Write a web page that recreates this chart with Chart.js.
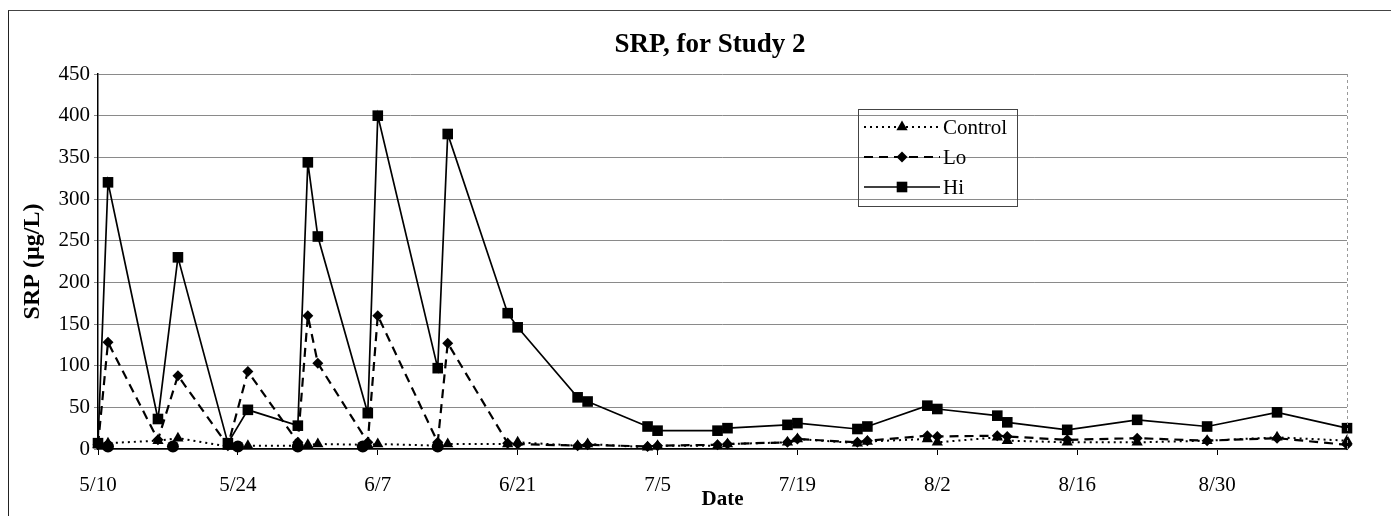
<!DOCTYPE html>
<html><head><meta charset="utf-8">
<script src="https://cdn.jsdelivr.net/npm/chart.js@4.4.1/dist/chart.umd.min.js"></script>
<style>
html,body{margin:0;padding:0;background:#fff;}
#wrap{position:relative;width:1391px;height:516px;overflow:hidden;}
#frame{position:absolute;left:8px;top:10px;width:1400px;height:600px;border-left:1px solid #222;border-top:1px solid #444;}
canvas{position:absolute;left:0;top:0;}
</style></head><body>
<div id="wrap"><div id="frame"></div><canvas id="c" width="1391" height="516"></canvas></div>
<script>
// Sampling days counted from 5/10
const sampleDays = [0,1,6,8,13,15,20,21,22,27,28,34,35,41,42,48,49,55,56,62,63,69,70,76,77,83,84,90,91,97,104,111,118,125];
const controlValues = [5,7,10,13,3,4,4,5,6,5,6,4,6,6,8,4,6,2,4,4,6,8,12,7,9,12,8,14,10,8,8,10,14,10];
const loValues = [5,128,11,88,4,93,8,160,103,8,160,8,127,7,6,4,5,3,4,5,6,8,12,8,10,16,15,16,15,11,13,10,13,5];
const hiValues = [7,320,36,230,7,47,28,344,255,43,400,97,378,163,146,62,57,27,22,22,25,29,31,24,27,52,48,40,32,23,35,27,44,25];
// unlabelled circle markers near zero
const circleDays = [1,7.5,14,20,26.5,34];
const circleValues = [3,3,3,3,3,3];
const xTickLabels = ['5/10','5/24','6/7','6/21','7/5','7/19','8/2','8/16','8/30'];
const yTicks = [0,50,100,150,200,250,300,350,400,450];
const seriesNames = ['Control','Lo','Hi'];
const chartTitle = 'SRP, for Study 2';

const pts = (xs, ys) => xs.map((x,i)=>({x:x, y:ys[i]}));
const serif = "'Liberation Serif','Times New Roman',serif";

const titlePlugin = {
  id:'topTitle',
  afterDraw(chart){
    const o = chart.options.plugins.topTitle, ctx = chart.ctx;
    ctx.save();
    ctx.font = `bold ${o.size}px ${serif}`; ctx.fillStyle = '#000';
    ctx.textAlign = 'center'; ctx.textBaseline = 'middle';
    ctx.fillText(o.text, o.cx, o.cy);
    ctx.restore();
  }
};
const legendPlugin = {
  id:'boxLegend',
  afterDraw(chart){
    const ctx = chart.ctx, L = chart.options.plugins.boxLegend;
    ctx.save();
    ctx.strokeStyle = '#444'; ctx.lineWidth = 1;
    ctx.strokeRect(L.x+0.5, L.y+0.5, L.w, L.h);
    chart.data.datasets.slice(0,3).forEach((ds,i)=>{
      const y = L.y + L.rowTop + i*L.rowGap;
      ctx.strokeStyle = '#000'; ctx.lineWidth = ds.borderWidth;
      ctx.setLineDash(ds.borderDash || []);
      ctx.beginPath(); ctx.moveTo(L.x+L.lineStart, y); ctx.lineTo(L.x+L.lineEnd, y); ctx.stroke();
      ctx.setLineDash([]);
      const mx = L.x + (L.lineStart+L.lineEnd)/2;
      ctx.fillStyle = '#000';
      const r = ds.pointRadius;
      ctx.beginPath();
      if (ds.pointStyle==='triangle'){ ctx.moveTo(mx, y-r); ctx.lineTo(mx+r*0.866, y+r*0.5); ctx.lineTo(mx-r*0.866, y+r*0.5); ctx.closePath(); }
      else if (ds.pointStyle==='rectRot'){ ctx.moveTo(mx, y-r); ctx.lineTo(mx+r, y); ctx.lineTo(mx, y+r); ctx.lineTo(mx-r, y); ctx.closePath(); }
      else { const s = r*Math.SQRT1_2; ctx.rect(mx-s, y-s, 2*s, 2*s); }
      ctx.fill();
      ctx.font = `${L.fontSize}px ${serif}`;
      ctx.textBaseline = 'middle'; ctx.textAlign = 'left';
      ctx.fillText(ds.label, L.x+L.textStart, y+1);
    });
    ctx.restore();
  }
};
const edgePlugin = {
  id:'rightEdge',
  afterDatasetsDraw(chart){
    const {ctx, chartArea:a} = chart;
    ctx.save(); ctx.strokeStyle='#999'; ctx.lineWidth=1; ctx.setLineDash([3,3]);
    ctx.beginPath(); ctx.moveTo(a.right+0.5, a.top); ctx.lineTo(a.right+0.5, a.bottom); ctx.stroke();
    ctx.restore();
  }
};

new Chart(document.getElementById('c'), {
  type:'line',
  data:{ datasets:[
    {label:seriesNames[0], data:pts(sampleDays, controlValues), borderColor:'#000', backgroundColor:'#000', borderWidth:2, borderDash:[2,4], pointStyle:'triangle', pointRadius:6.5, pointBorderWidth:0},
    {label:seriesNames[1], data:pts(sampleDays, loValues), borderColor:'#000', backgroundColor:'#000', borderWidth:2.2, borderDash:[9,6], pointStyle:'rectRot', pointRadius:5.5, pointBorderWidth:0},
    {label:seriesNames[2], data:pts(sampleDays, hiValues), borderColor:'#000', backgroundColor:'#000', borderWidth:1.7, pointStyle:'rect', pointRadius:7.5, pointBorderWidth:0},
    {label:'', data:pts(circleDays, circleValues), showLine:false, borderColor:'#000', backgroundColor:'#000', pointStyle:'circle', pointRadius:6, pointBorderWidth:0}
  ]},
  options:{
    responsive:false, animation:false, clip:false,
    layout:{padding:{left:18, right:44, top:74, bottom:4}},
    elements:{line:{tension:0}},
    plugins:{
      legend:{display:false}, tooltip:{enabled:false}, title:{display:false},
      topTitle:{text:chartTitle, size:27, cx:710, cy:45},
      boxLegend:{x:858, y:109, w:159, h:97, rowTop:18, rowGap:30, lineStart:6, lineEnd:82, textStart:85, fontSize:21}
    },
    scales:{
      x:{type:'linear', min:0, max:125,
        afterFit(s){ s.height = 63; },
        afterBuildTicks(s){ s.ticks = xTickLabels.map((_,i)=>({value:i*14})); },
        ticks:{color:'#000', font:{family:serif, size:21}, padding:18, maxRotation:0, autoSkip:false,
          callback:(v)=>xTickLabels[Math.round(v/14)]},
        grid:{drawOnChartArea:false, drawTicks:true, tickLength:6, color:'#000'},
        border:{color:'#000', width:1.5},
        title:{display:true, text:'Date', color:'#000', font:{family:serif, size:21, weight:'bold'}, padding:{top:0, bottom:0}}
      },
      y:{min:0, max:450,
        afterFit(s){ s.width = 80; },
        afterBuildTicks(s){ s.ticks = yTicks.map(v=>({value:v})); },
        ticks:{color:'#000', font:{family:serif, size:21}, padding:4},
        grid:{color:'#8a8a8a', lineWidth:1, tickLength:4},
        border:{color:'#000', width:1.5},
        title:{display:true, text:'SRP (µg/L)', color:'#000', font:{family:serif, size:24, weight:'bold'}, padding:{top:0, bottom:0}}
      }
    }
  },
  plugins:[edgePlugin, legendPlugin, titlePlugin]
});
</script>
</body></html>
